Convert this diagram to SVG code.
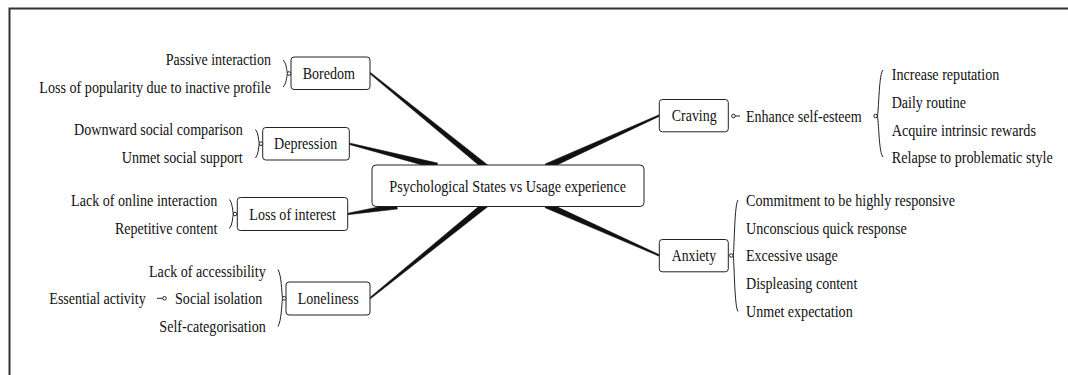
<svg xmlns="http://www.w3.org/2000/svg" width="1068" height="375" viewBox="0 0 1068 375">
<style>
text{font-family:"Liberation Serif","Times New Roman",serif;font-size:17.5px;fill:#111;}
.box{fill:#fff;stroke:#222;stroke-width:1;}
.br{fill:none;stroke:#222;stroke-width:1;}
.dot{fill:#fff;stroke:#222;stroke-width:1;}
.con{fill:#111;stroke:#111;stroke-width:0.5;stroke-linejoin:round;}
.frame{stroke:#333;stroke-width:2;fill:none;}
</style>
<rect width="1068" height="375" fill="#fff"/>
<path class="frame" d="M9.5,375 L9.5,8.5 L1068,8.5"/>

<g id="connectors">
<polygon class="con" points="369.56,73.54 484.2,169.8 488.0,165.2 370.44,72.46"/>
<polygon class="con" points="349.13,144.38 436.16,168.91 437.64,163.09 349.47,143.02"/>
<polygon class="con" points="347.81,214.69 397.38,209.06 396.42,203.14 347.59,213.31"/>
<polygon class="con" points="370.44,298.84 487.99,206.53 484.21,201.87 369.56,297.76"/>
<polygon class="con" points="659.01,114.86 545.12,163.92 547.60,169.38 659.59,116.14"/>
<polygon class="con" points="659.59,254.86 547.57,202.33 545.13,207.81 659.01,256.14"/>
</g>

<g id="center">
<rect class="box" x="372" y="165" width="272" height="41.5" rx="4"/>
<text transform="translate(389.3,192) scale(0.81,1)" textLength="292.2" lengthAdjust="spacingAndGlyphs">Psychological States vs Usage experience</text>
</g>

<g id="boredom">
<rect class="box" x="291" y="57" width="79" height="32.5" rx="3"/>
<text transform="translate(302.7,78.7) scale(0.81,1)" textLength="64.6" lengthAdjust="spacingAndGlyphs">Boredom</text>
<path class="br" d="M283,60 C286.5,63 286.5,70 287.5,73.5 C286.5,77 286.5,84 283,87"/>
<circle class="dot" cx="289" cy="73.5" r="1.8"/>
<text transform="translate(165.7,65) scale(0.81,1)" textLength="130" lengthAdjust="spacingAndGlyphs">Passive interaction</text>
<text transform="translate(39.3,93) scale(0.81,1)" textLength="286" lengthAdjust="spacingAndGlyphs">Loss of popularity due to inactive profile</text>
</g>

<g id="depression">
<rect class="box" x="262.7" y="127.5" width="86.6" height="32.5" rx="3"/>
<text transform="translate(274,149.3) scale(0.81,1)" textLength="78.1" lengthAdjust="spacingAndGlyphs">Depression</text>
<path class="br" d="M255.5,129.5 C258.5,133 258.5,140 259.3,143.7 C258.5,147.5 258.5,154.5 255.5,158"/>
<circle class="dot" cx="261" cy="143.7" r="1.8"/>
<text transform="translate(74,135.2) scale(0.81,1)" textLength="208.3" lengthAdjust="spacingAndGlyphs">Downward social comparison</text>
<text transform="translate(121.7,163) scale(0.81,1)" textLength="149.4" lengthAdjust="spacingAndGlyphs">Unmet social support</text>
</g>

<g id="loss-of-interest">
<rect class="box" x="237.3" y="197.5" width="110.4" height="33" rx="3"/>
<text transform="translate(249.3,219.7) scale(0.81,1)" textLength="107" lengthAdjust="spacingAndGlyphs">Loss of interest</text>
<path class="br" d="M229.5,199.5 C232.5,203 232.5,210 233.3,214 C232.5,218 232.5,225 229.5,228.5"/>
<circle class="dot" cx="235" cy="214" r="1.8"/>
<text transform="translate(71,205.7) scale(0.81,1)" textLength="180.6" lengthAdjust="spacingAndGlyphs">Lack of online interaction</text>
<text transform="translate(115,233.5) scale(0.81,1)" textLength="126.3" lengthAdjust="spacingAndGlyphs">Repetitive content</text>
</g>

<g id="loneliness">
<rect class="box" x="286" y="282" width="84" height="33" rx="3"/>
<text transform="translate(297.7,304) scale(0.81,1)" textLength="75.3" lengthAdjust="spacingAndGlyphs">Loneliness</text>
<path class="br" d="M278,269.5 C281.5,276 281.5,290 282.5,298.3 C281.5,306.5 281.5,320 278,326.5"/>
<circle class="dot" cx="284.2" cy="298.3" r="1.8"/>
<text transform="translate(149,276.5) scale(0.81,1)" textLength="144.1" lengthAdjust="spacingAndGlyphs">Lack of accessibility</text>
<text transform="translate(175,304) scale(0.81,1)" textLength="107.8" lengthAdjust="spacingAndGlyphs">Social isolation</text>
<text transform="translate(159.3,331.5) scale(0.81,1)" textLength="131.4" lengthAdjust="spacingAndGlyphs">Self-categorisation</text>
<line class="br" x1="157" y1="298.3" x2="162.7" y2="298.3"/>
<circle class="dot" cx="164.5" cy="298.3" r="1.8"/>
<text transform="translate(49.3,304) scale(0.81,1)" textLength="119" lengthAdjust="spacingAndGlyphs">Essential activity</text>
</g>

<g id="craving">
<rect class="box" x="659.3" y="99.5" width="69" height="32.3" rx="3"/>
<text transform="translate(671.7,121.3) scale(0.81,1)" textLength="55.6" lengthAdjust="spacingAndGlyphs">Craving</text>
<circle class="dot" cx="733.5" cy="116" r="1.8"/>
<line class="br" x1="735.3" y1="116" x2="740" y2="116"/>
<text transform="translate(746,121.5) scale(0.81,1)" textLength="142.8" lengthAdjust="spacingAndGlyphs">Enhance self-esteem</text>
<circle class="dot" cx="875.6" cy="116" r="1.8"/>
<path class="br" d="M883,70 C879,74 879,105 877.5,116 C879,127 879,153 883,157"/>
<text transform="translate(891.7,80.3) scale(0.81,1)" textLength="132.8" lengthAdjust="spacingAndGlyphs">Increase reputation</text>
<text transform="translate(891.7,108) scale(0.81,1)" textLength="91.7" lengthAdjust="spacingAndGlyphs">Daily routine</text>
<text transform="translate(891.7,135.7) scale(0.81,1)" textLength="178.1" lengthAdjust="spacingAndGlyphs">Acquire intrinsic rewards</text>
<text transform="translate(891.7,163.3) scale(0.81,1)" textLength="198.8" lengthAdjust="spacingAndGlyphs">Relapse to problematic style</text>
</g>

<g id="anxiety">
<rect class="box" x="659.3" y="239.5" width="69" height="32.3" rx="3"/>
<text transform="translate(671.7,261.3) scale(0.81,1)" textLength="54.7" lengthAdjust="spacingAndGlyphs">Anxiety</text>
<circle class="dot" cx="731.3" cy="255.5" r="1.8"/>
<path class="br" d="M738,200 C734.5,205 734.5,242 733.3,255.5 C734.5,269 734.5,306 738,311.5"/>
<text transform="translate(746,205.8) scale(0.81,1)" textLength="258" lengthAdjust="spacingAndGlyphs">Commitment to be highly responsive</text>
<text transform="translate(746,233.5) scale(0.81,1)" textLength="198.4" lengthAdjust="spacingAndGlyphs">Unconscious quick response</text>
<text transform="translate(746,261.3) scale(0.81,1)" textLength="113.2" lengthAdjust="spacingAndGlyphs">Excessive usage</text>
<text transform="translate(746,289) scale(0.81,1)" textLength="137.4" lengthAdjust="spacingAndGlyphs">Displeasing content</text>
<text transform="translate(746,316.8) scale(0.81,1)" textLength="131.7" lengthAdjust="spacingAndGlyphs">Unmet expectation</text>
</g>
</svg>
